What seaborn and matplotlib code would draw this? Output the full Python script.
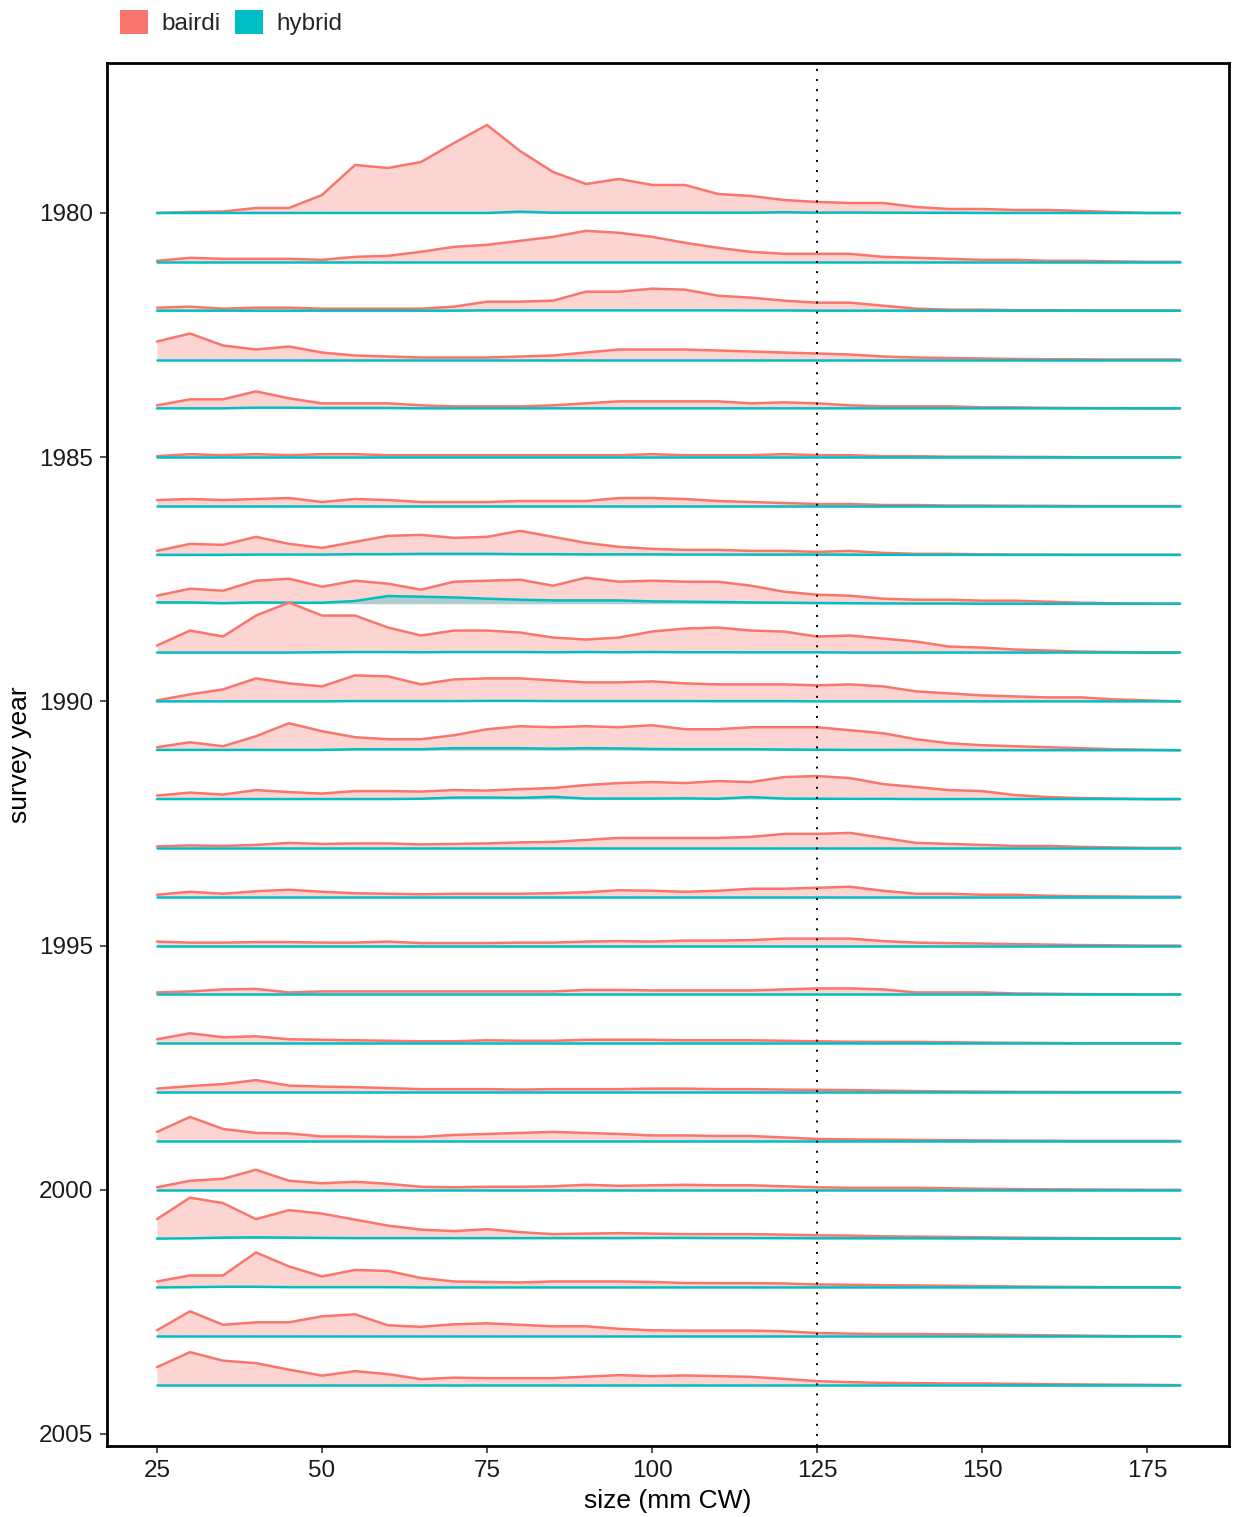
import matplotlib
matplotlib.use("Agg")
import matplotlib.pyplot as plt
from matplotlib.patches import Patch
import numpy as np
import pandas as pd
import seaborn as sns

sns.set_theme(style="white")
plt.rcParams["font.family"] = ["Liberation Sans", "DejaVu Sans"]

# size classes (mm carapace width)
sizes = [25, 30, 35, 40, 45, 50, 55, 60, 65, 70, 75, 80, 85, 90, 95, 100,
         105, 110, 115, 120, 125, 130, 135, 140, 145, 150, 155, 160, 165, 170, 175, 180]

years = list(range(1980, 2005))

# relative abundance by size class, bairdi
bairdi = {
    1980: [0, 1, 1.5, 5, 5, 18, 48, 45, 51, 70, 88, 62, 41, 29, 34, 28, 28, 19, 17, 13, 11, 10, 10, 6, 4, 4, 3, 3, 2, 1, 0, 0],
    1981: [1, 4, 3, 3, 3, 2, 5, 6, 10, 15, 17, 21, 25, 31, 29, 25, 19, 14, 10, 8, 8, 8, 5, 4, 3, 2, 2, 1, 1, 0.5, 0, 0],
    1982: [3, 4, 2, 3, 3, 2, 2, 2, 2, 4, 9, 9, 10, 19, 19, 22, 21, 15, 13, 10, 8, 8, 5, 2, 1, 1, 0.5, 0.5, 0.3, 0, 0, 0],
    1983: [18, 26, 14, 10, 13, 7, 4, 3, 2, 2, 2, 3, 4, 7, 10, 10, 10, 9, 8, 7, 6, 5, 3, 2, 1.5, 1, 0.5, 0.3, 0.2, 0, 0, 0],
    1984: [3, 9, 9, 17, 10, 5, 5, 5, 3, 2, 2, 2, 3, 5, 7, 7, 7, 7, 5, 6, 5, 3, 2, 2, 2, 1, 1, 0.5, 0.3, 0.2, 0, 0],
    1985: [1, 3, 2, 3, 2, 3, 3, 2, 2, 2, 2, 2, 2, 2, 2, 3, 2, 2, 2, 3, 2, 2, 1, 1, 0.5, 0.5, 0.3, 0.2, 0, 0, 0, 0],
    1986: [6, 7, 6, 7, 8, 4, 7, 6, 4, 4, 4, 5, 5, 5, 8, 8, 7, 5, 4, 3, 2, 2, 1, 1, 0.5, 0.5, 0.3, 0.2, 0, 0, 0, 0],
    1987: [4, 11, 10, 18, 11, 7, 13, 19, 20, 17, 18, 24, 18, 12, 8, 6, 5, 5, 4, 4, 3, 4, 2, 1, 1, 0.5, 0.3, 0.2, 0, 0, 0, 0],
    1988: [8, 15, 13, 23, 25, 17, 23, 20, 14, 22, 23, 24, 18, 26, 22, 23, 22, 22, 18, 12, 9, 8, 5, 4, 4, 3, 3, 2, 1, 0.5, 0, 0],
    1989: [7, 22, 16, 37, 50, 37, 37, 25, 17, 22, 22, 20, 15, 13, 15, 21, 24, 25, 22, 21, 16, 17, 14, 11, 6, 5, 3, 2, 1, 0.5, 0, 0],
    1990: [1, 7, 12, 23, 18, 15, 26, 25, 17, 22, 23, 23, 21, 19, 19, 20, 18, 17, 17, 17, 16, 17, 15, 10, 8, 6, 5, 4, 4, 2, 1, 0],
    1991: [3, 8, 4, 14, 27, 19, 13, 11, 11, 15, 21, 24, 23, 24, 23, 25, 21, 21, 23, 23, 23, 20, 17, 11, 7, 5, 4, 3, 2, 1, 0.5, 0],
    1992: [3.5, 6.5, 4.5, 9, 7, 5.5, 8, 8, 7.5, 9, 8.5, 10, 11, 14, 16, 17, 16, 18, 17, 22, 23, 21, 15, 12, 9, 8, 4, 2, 1, 0.5, 0, 0],
    1993: [1.5, 2.5, 2, 3, 5, 4, 4.5, 4.5, 3.5, 4, 4.5, 5.5, 6, 8, 10, 10, 10, 10, 11, 14, 14, 15, 10, 5, 4, 3, 2, 2, 1, 0.5, 0, 0],
    1994: [2, 5, 3, 5.5, 7, 5, 3.5, 3, 2.5, 3, 3, 3, 3.5, 4.5, 6.5, 6, 5, 6, 8, 8, 9, 10, 6, 3, 3, 2, 2, 1, 0.5, 0.3, 0, 0],
    1995: [4, 3, 3, 3.5, 3.5, 3, 3, 4, 2.5, 2.5, 2.5, 3, 3, 4, 4.5, 4, 5, 5, 5.5, 7, 7, 7, 4.5, 3, 2.5, 2, 1.5, 1, 0.5, 0.3, 0, 0],
    1996: [2, 3, 5, 5.5, 2, 3, 3, 3, 3, 3, 3, 3, 3, 4.5, 4.5, 4, 4, 4, 4, 5, 6, 6, 5, 2, 2, 2, 1, 0.7, 0.3, 0.2, 0, 0],
    1997: [4, 10, 6, 7, 4, 3.5, 3, 2.5, 2, 2, 3, 2.5, 2.5, 3.5, 3.5, 3.5, 3, 3, 3, 2.5, 2, 1.5, 1.3, 1.3, 1, 0.7, 0.5, 0.3, 0, 0, 0, 0],
    1998: [3.5, 6, 8, 12, 6.5, 5.5, 5, 4, 3, 3, 3, 2.5, 3, 3, 3, 3.5, 3.5, 3, 3, 2.5, 2.3, 2, 1.5, 1, 0.7, 0.5, 0.3, 0.2, 0, 0, 0, 0],
    1999: [9, 24, 12, 8, 7.5, 4.5, 4.5, 4, 4, 6, 7, 8, 9, 8, 7, 5.5, 5.5, 5, 5, 3.5, 2, 1.5, 1.3, 1, 0.7, 0.5, 0.3, 0.2, 0, 0, 0, 0],
    2000: [2.5, 9, 11, 20, 9, 6.5, 8, 6, 3, 2.5, 3, 3, 3.5, 5, 4, 4.5, 5, 4.5, 4.5, 3.5, 2.5, 2, 2, 2, 1.5, 1, 0.7, 0.5, 0.3, 0.2, 0, 0],
    2001: [19.5, 41, 35.5, 19.5, 28.5, 25, 19, 13, 9, 7.5, 9.5, 6.5, 4.5, 5, 5.5, 5, 4.5, 4.5, 4.5, 4, 3.3, 3, 2.3, 2, 1.7, 1.3, 1, 0.7, 0.5, 0.3, 0.2, 0],
    2002: [6, 12, 12, 35, 21, 11, 17.5, 16.5, 9.5, 6, 5.5, 5, 6, 6, 6, 5.5, 4.5, 4.3, 4.3, 4, 3, 2.7, 2.3, 2, 1.7, 1.3, 1, 0.7, 0.5, 0.3, 0.2, 0],
    2003: [6, 25, 11.5, 14, 14, 20, 22, 11, 9.5, 12, 13, 11.5, 10, 10, 7.5, 6, 5.7, 5.7, 5.7, 5, 3.3, 2.7, 2.3, 2.3, 2, 1.7, 1.3, 1, 0.7, 0.3, 0.2, 0],
    2004: [18, 33, 24.5, 22, 15.5, 9.5, 14, 11, 6, 7.5, 7, 7, 7, 8.5, 10, 9, 9.7, 9, 8.3, 6.3, 4, 3, 2.3, 2, 1.7, 1.7, 1.3, 1, 0.7, 0.5, 0.3, 0],
}

# relative abundance by size class, hybrid
hybrid = {
    1980: [0, 0, 0, 0, 0, 0, 0, 0, 0, 0, 0, 1.3, 0.3, 0.3, 0.3, 0.3, 0.3, 0.3, 0.3, 0.8, 0.3, 0.5, 0.3, 0.2, 0.2, 0, 0, 0, 0, 0, 0, 0],
    1981: [0, 0, 0, 0, 0, 0, 0, 0, 0, 0, 0, 0, 0, 0, 0, 0, 0, 0, 0, 0, 0, 0, 0, 0, 0, 0, 0, 0, 0, 0, 0, 0],
    1982: [0, 0, 0, 0, 0, 0, 0, 0, 0, 0, 0.3, 0.3, 0.3, 0.3, 0.3, 0.3, 0.3, 0.3, 0.2, 0.2, 0, 0, 0, 0, 0, 0, 0, 0, 0, 0, 0, 0],
    1983: [0, 0, 0, 0, 0, 0, 0, 0, 0, 0, 0, 0, 0, 0, 0, 0, 0, 0, 0, 0, 0, 0, 0, 0, 0, 0, 0, 0, 0, 0, 0, 0],
    1984: [0, 0, 0, 0.7, 0.7, 0.3, 0.3, 0.3, 0, 0, 0, 0, 0, 0, 0, 0, 0, 0, 0, 0, 0, 0, 0, 0, 0, 0, 0, 0, 0, 0, 0, 0],
    1985: [0, 0, 0, 0, 0, 0, 0, 0, 0, 0, 0, 0, 0, 0, 0, 0, 0, 0, 0, 0, 0, 0, 0, 0, 0, 0, 0, 0, 0, 0, 0, 0],
    1986: [0, 0, 0, 0, 0, 0, 0, 0, 0, 0, 0, 0, 0, 0, 0, 0, 0, 0, 0, 0, 0, 0, 0, 0, 0, 0, 0, 0, 0, 0, 0, 0],
    1987: [0, 0, 0, 0.3, 0.3, 0.3, 0.7, 0.7, 1, 1, 1, 0.7, 0.7, 0.5, 0.5, 0.5, 0.3, 0.3, 0.3, 0.3, 0.3, 0.2, 0, 0, 0, 0, 0, 0, 0, 0, 0, 0],
    1988: [1.3, 1.3, 0.5, 1.3, 1, 1, 2.7, 7.7, 7, 6.3, 5, 4, 3.3, 3.3, 3.3, 2.3, 2, 1.7, 1.3, 1, 0.7, 0.5, 0.3, 0.2, 0.2, 0, 0, 0, 0, 0, 0, 0],
    1989: [0, 0, 0, 0, 0, 0.3, 0.5, 0.5, 0.3, 0.5, 0.5, 0.5, 0.3, 0.5, 0.3, 0.5, 0.3, 0.3, 0.2, 0.2, 0.2, 0, 0, 0, 0, 0, 0, 0, 0, 0, 0, 0],
    1990: [0, 0, 0, 0, 0, 0, 0.3, 0.3, 0.3, 0.3, 0.5, 0.5, 0.3, 0.3, 0.3, 0.3, 0.3, 0.2, 0.2, 0.2, 0, 0, 0, 0, 0, 0, 0, 0, 0, 0, 0, 0],
    1991: [0.3, 0.3, 0.3, 0.3, 0.3, 0.3, 1, 1, 1, 2, 2, 2, 1.5, 2, 1.8, 1.2, 1, 1, 1, 0.7, 0.5, 0.3, 0.3, 0.3, 0.2, 0, 0, 0, 0, 0, 0, 0],
    1992: [0, 0, 0, 0, 0, 0, 0, 0, 0.3, 1.5, 1.5, 1.2, 2.3, 0.5, 0.5, 0.5, 0.7, 0.3, 2, 0.5, 0.3, 0.2, 0.2, 0, 0, 0, 0, 0, 0, 0, 0, 0],
    1993: [0, 0, 0, 0, 0, 0, 0, 0, 0, 0, 0, 0, 0, 0, 0, 0, 0, 0, 0, 0, 0, 0, 0, 0, 0, 0, 0, 0, 0, 0, 0, 0],
    1994: [0, 0, 0, 0, 0, 0, 0, 0, 0, 0, 0, 0, 0, 0, 0, 0, 0, 0, 0, 0, 0, 0, 0, 0, 0, 0, 0, 0, 0, 0, 0, 0],
    1995: [0, 0, 0, 0, 0, 0, 0, 0, 0, 0, 0, 0, 0, 0, 0, 0, 0, 0, 0, 0, 0, 0, 0, 0, 0, 0, 0, 0, 0, 0, 0, 0],
    1996: [0, 0, 0, 0, 0, 0, 0, 0, 0, 0, 0, 0, 0, 0, 0, 0, 0, 0, 0, 0, 0, 0, 0, 0, 0, 0, 0, 0, 0, 0, 0, 0],
    1997: [0, 0, 0, 0, 0, 0, 0, 0, 0, 0, 0, 0, 0, 0, 0, 0, 0, 0, 0, 0, 0, 0, 0, 0, 0, 0, 0, 0, 0, 0, 0, 0],
    1998: [0, 0, 0, 0, 0, 0, 0, 0, 0, 0, 0, 0, 0, 0, 0, 0, 0, 0, 0, 0, 0, 0, 0, 0, 0, 0, 0, 0, 0, 0, 0, 0],
    1999: [0, 0, 0, 0, 0, 0, 0, 0, 0, 0, 0, 0, 0, 0, 0, 0, 0, 0, 0, 0, 0, 0, 0, 0, 0, 0, 0, 0, 0, 0, 0, 0],
    2000: [0, 0, 0, 0, 0, 0, 0, 0, 0, 0, 0, 0, 0, 0, 0, 0, 0, 0, 0, 0, 0, 0, 0, 0, 0, 0, 0, 0, 0, 0, 0, 0],
    2001: [0, 0.3, 1, 1.3, 1, 0.7, 0.5, 0.5, 0.5, 0.5, 0.5, 0.5, 0.5, 0.5, 0.5, 0.7, 0.7, 0.5, 0.5, 0.5, 0.3, 0.3, 0.3, 0.3, 0.2, 0.2, 0, 0, 0, 0, 0, 0],
    2002: [0, 0.3, 0.7, 0.7, 0.3, 0.3, 0.3, 0.3, 0, 0, 0, 0, 0, 0, 0, 0, 0, 0, 0, 0, 0, 0, 0, 0, 0, 0, 0, 0, 0, 0, 0, 0],
    2003: [0, 0, 0, 0, 0, 0, 0, 0, 0, 0, 0, 0, 0, 0, 0, 0, 0, 0, 0, 0, 0, 0, 0, 0, 0, 0, 0, 0, 0, 0, 0, 0],
    2004: [0, 0, 0, 0, 0, 0, 0, 0, 0, 0, 0, 0, 0, 0, 0, 0, 0, 0, 0, 0, 0, 0, 0, 0, 0, 0, 0, 0, 0, 0, 0, 0],
}

species_colors = {"bairdi": "#F8766D", "hybrid": "#00BFC4"}
ridge_scale = 1 / 48.84   # abundance units -> rows
size_cutoff = 125

# long table: one row per year x species x size class
records = []
for yr in years:
    for sp, table in (("bairdi", bairdi), ("hybrid", hybrid)):
        for s, v in zip(sizes, table[yr]):
            records.append({"year": yr, "species": sp, "size": s, "abundance": v})
df = pd.DataFrame(records)
df["top"] = df["year"] - df["abundance"] * ridge_scale

fig = plt.figure(figsize=(12.33, 15.17), dpi=100)
ax = fig.add_axes([0.08678, 0.04680, 0.90998, 0.91167])

z = 2
for yr in years:
    for sp in ("bairdi", "hybrid"):
        sub = df[(df["year"] == yr) & (df["species"] == sp)]
        ax.fill_between(sub["size"], sub["year"], sub["top"],
                        color=species_colors[sp], alpha=0.3, linewidth=0, zorder=z)
        sns.lineplot(data=sub, x="size", y="top", color=species_colors[sp],
                     linewidth=1.8, ax=ax, legend=False, zorder=z + 0.5,
                     estimator=None, sort=False)
        z += 1

ax.axvline(size_cutoff, color="black", linewidth=1.4, linestyle=(0, (1, 4.2)), zorder=500)

ax.set_xlim(17.424, 187.42)
ax.set_ylim(2005.246, 1976.929)
ax.set_xticks([25, 50, 75, 100, 125, 150, 175])
ax.set_yticks([1980, 1985, 1990, 1995, 2000, 2005])
ax.set_xlabel("size (mm CW)", fontsize=19, color="black", labelpad=5)
ax.set_ylabel("survey year", fontsize=19, color="black", labelpad=5)
ax.tick_params(axis="both", which="major", direction="out", length=5, width=1.2,
               color="#333333", labelsize=17.5, labelcolor="#1a1a1a", pad=5,
               left=True, bottom=True)
for side in ("left", "right", "top", "bottom"):
    ax.spines[side].set_visible(True)
    ax.spines[side].set_color("black")
    ax.spines[side].set_linewidth(2.0)
ax.grid(False)

handles = [Patch(facecolor=species_colors["bairdi"], edgecolor="none", label="bairdi"),
           Patch(facecolor=species_colors["hybrid"], edgecolor="none", label="hybrid")]
fig.legend(handles=handles, loc="upper left", bbox_to_anchor=(0.0856, 1.003), ncol=2,
           frameon=False, fontsize=17.5, handlelength=1.15, handleheight=1.15,
           handletextpad=0.55, columnspacing=0.6, borderaxespad=0.2)

fig.savefig("out.png", dpi=100)
